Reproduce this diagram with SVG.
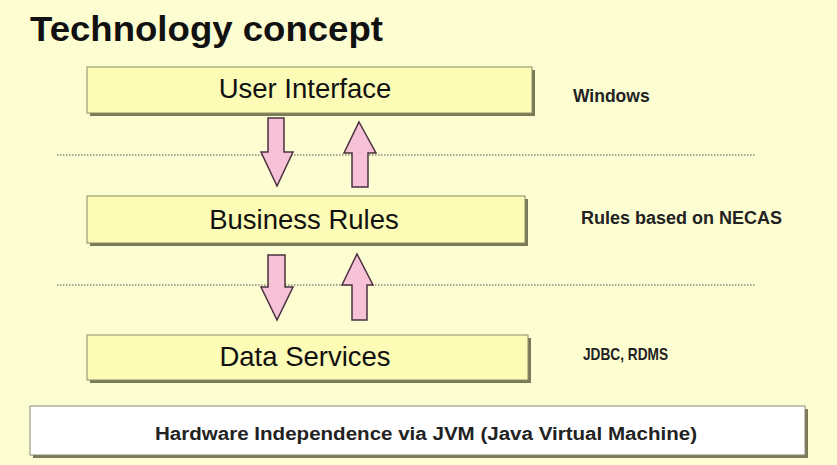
<svg xmlns="http://www.w3.org/2000/svg" width="837" height="465" viewBox="0 0 837 465">
<defs>
<style>
.bg{fill:#FDFDD2}
.box{fill:#FCFCB6;stroke:#8A8A60;stroke-width:1}
.shadow{fill:#7A7A58}
.wbox{fill:#FFFFFF;stroke:#8A8A70;stroke-width:1}
.lbl{font-family:"Liberation Sans",Arial,sans-serif;font-size:27.5px;fill:#111}
.side{font-family:"Liberation Sans",Arial,sans-serif;font-weight:bold;fill:#222}
.arrow{fill:#F8C2D6;stroke:#4A3040;stroke-width:1.5;stroke-linejoin:miter}
.dot{stroke:#555;stroke-width:1;stroke-dasharray:1.5 1.5}
</style>
</defs>
<rect class="bg" x="0" y="0" width="837" height="465"/>
<text x="30" y="41" font-family="'Liberation Sans',Arial,sans-serif" font-size="35" font-weight="bold" fill="#111" textLength="353" lengthAdjust="spacingAndGlyphs">Technology concept</text>

<g id="dividers">
<line class="dot" x1="57" y1="155" x2="755" y2="155"/>
<line class="dot" x1="57" y1="285" x2="755" y2="285"/>
</g>

<g id="user-interface">
<rect class="shadow" x="90" y="70" width="445" height="46"/>
<rect class="box" x="87" y="67" width="445" height="46"/>
<text class="lbl" x="305" y="98" text-anchor="middle">User Interface</text>
</g>
<g id="business-rules">
<rect class="shadow" x="90" y="199" width="438" height="47"/>
<rect class="box" x="87" y="196" width="438" height="47"/>
<text class="lbl" x="304" y="229" text-anchor="middle">Business Rules</text>
</g>
<g id="data-services">
<rect class="shadow" x="90" y="338" width="441" height="45"/>
<rect class="box" x="87" y="335" width="441" height="45"/>
<text class="lbl" x="305" y="366" text-anchor="middle">Data Services</text>
</g>
<g id="hardware">
<rect class="shadow" x="33" y="409" width="775" height="49"/>
<rect class="wbox" x="30" y="406" width="775" height="49"/>
<text x="155" y="440" font-family="'Liberation Sans',Arial,sans-serif" font-size="18" font-weight="bold" fill="#222" textLength="542" lengthAdjust="spacingAndGlyphs">Hardware Independence via JVM (Java Virtual Machine)</text>
</g>

<g id="side-labels">
<text class="side" x="573" y="102" font-size="17.5">Windows</text>
<text class="side" x="581" y="224" font-size="18">Rules based on NECAS</text>
<text class="side" x="583" y="360" font-size="17" textLength="85" lengthAdjust="spacingAndGlyphs">JDBC, RDMS</text>
</g>

<g id="connectors">
<polygon class="arrow" points="268,118 284,118 284,152 293,152 277,186 261,152 268,152"/>
<polygon class="arrow" points="359,122 376,153 368,153 368,187 352,187 352,153 344,153"/>
<polygon class="arrow" points="268,255 285,255 285,287 293,287 277,320 261,287 268,287"/>
<polygon class="arrow" points="357,254 373,285 367,285 367,320 352,320 352,285 342,285"/>
</g>
</svg>
